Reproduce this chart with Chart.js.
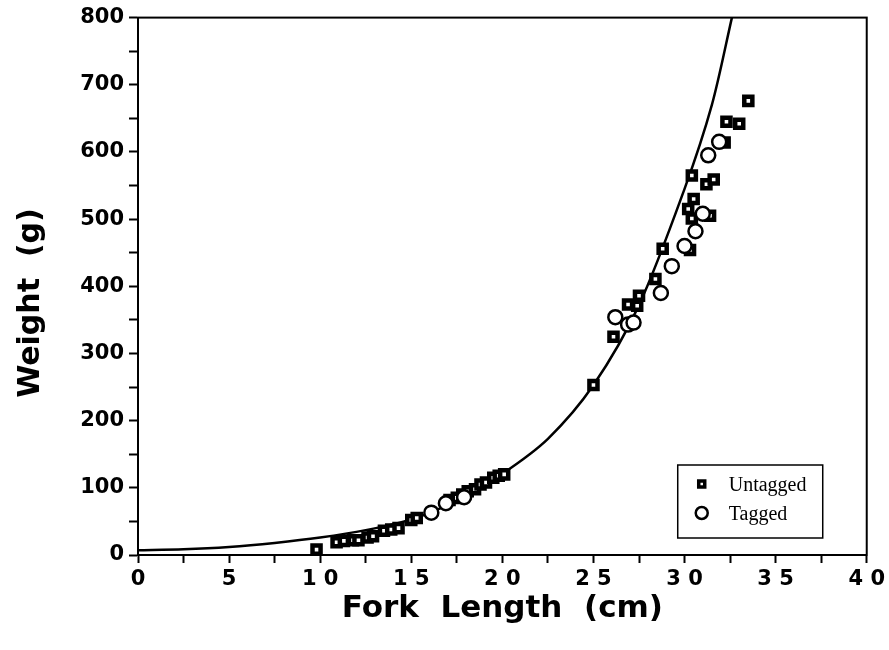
<!DOCTYPE html>
<html>
<head>
<meta charset="utf-8">
<script src="https://cdn.jsdelivr.net/npm/chart.js@4.4.1/dist/chart.umd.min.js"></script>
<style>
  html, body { margin: 0; padding: 0; background: #fff; }
</style>
</head>
<body>
<canvas id="chart" width="889" height="650"></canvas>
<script>
// fitted weight-length curve
const curveLength = [0, 2.5, 5, 7.5, 10, 12.5, 15, 17.5, 20, 22.5, 25, 27.5, 30, 31.5, 32.6];
const curveWeight = [7, 8.5, 12, 18, 26, 37, 53, 81, 121, 173, 253, 372, 545, 670, 800];

// untagged fish (squares)
const untaggedLength = [9.8, 10.9, 11.3, 11.8, 12.1, 12.6, 12.9, 13.5, 13.9, 14.3, 15.0, 15.3,
  17.1, 17.5, 17.8, 18.1, 18.5, 18.8, 19.1, 19.5, 19.8, 20.1,
  25.0, 26.1, 26.9, 27.4, 27.5, 28.4, 28.8, 30.2, 30.4, 30.3, 30.5, 30.4, 31.2, 31.6,
  32.2, 32.3, 33.0, 33.5, 31.4];
const untaggedWeight = [8, 19, 21, 22, 22, 26, 28, 36, 38, 40, 52, 55,
  82, 85, 90, 95, 98, 105, 108, 115, 118, 120,
  253, 325, 373, 371, 386, 411, 456, 515, 501, 454, 530, 565, 552, 559,
  614, 645, 642, 676, 505];

// tagged fish (circles)
const taggedLength = [16.1, 16.9, 17.9, 26.2, 26.9, 27.2, 28.7, 29.3, 30.0, 30.6, 31.0, 31.3, 31.9];
const taggedWeight = [63, 77, 86, 354, 343, 346, 390, 430, 460, 482, 508, 595, 615];

const xTickValues = [0, 5, 10, 15, 20, 25, 30, 35, 40];
const xTickLabels = ['0', '5', '1 0', '1 5', '2 0', '2 5', '3 0', '3 5', '4 0'];
const yTickValues = [0, 100, 200, 300, 400, 500, 600, 700, 800];
const yTickLabels = ['0', '100', '200', '300', '400', '500', '600', '700', '800'];
const yTitle = 'Weight  (g)';
const xTitle = 'Fork  Length  (cm)';

function toPoints(xs, ys) {
  return xs.map((x, i) => ({ x: x, y: ys[i] }));
}

const boldFont = '"DejaVu Sans", sans-serif';

const frameAndLegend = {
  id: 'frameAndLegend',
  afterDraw(chart) {
    const ctx = chart.ctx;
    const area = chart.chartArea;
    ctx.save();
    ctx.strokeStyle = '#000';
    ctx.lineWidth = 2;
    ctx.strokeRect(area.left, area.top, area.right - area.left, area.bottom - area.top);

    // y axis title, drawn here so it can sit a little below the axis middle
    ctx.save();
    ctx.translate(31, 303);
    ctx.rotate(-Math.PI / 2);
    ctx.fillStyle = '#000';
    ctx.font = 'bold 30px ' + boldFont;
    ctx.textAlign = 'center';
    ctx.textBaseline = 'middle';
    ctx.fillText(yTitle, 0, 0);
    ctx.restore();

    // legend box, lower right of plot
    const bx = area.right - 189, by = area.bottom - 90, bw = 145, bh = 73;
    ctx.lineWidth = 1.5;
    ctx.strokeRect(bx, by, bw, bh);

    // square marker
    ctx.fillStyle = '#fff';
    ctx.lineWidth = 3.5;
    ctx.beginPath();
    ctx.rect(bx + 21, by + 16, 6, 6);
    ctx.fill();
    ctx.stroke();

    // circle marker
    ctx.lineWidth = 2.5;
    ctx.beginPath();
    ctx.arc(bx + 24, by + 48, 6, 0, Math.PI * 2);
    ctx.fill();
    ctx.stroke();

    ctx.fillStyle = '#000';
    ctx.font = '20px "Liberation Serif", serif';
    ctx.textBaseline = 'middle';
    ctx.textAlign = 'left';
    ctx.fillText(chart.data.datasets[1].label, bx + 51, by + 21);
    ctx.fillText(chart.data.datasets[0].label, bx + 51, by + 50);
    ctx.restore();
  }
};

new Chart(document.getElementById('chart'), {
  type: 'scatter',
  data: {
    datasets: [
      {
        label: 'Tagged',
        data: toPoints(taggedLength, taggedWeight),
        pointStyle: 'circle',
        pointRadius: 7,
        pointBorderWidth: 2.5,
        pointBackgroundColor: '#fff',
        pointBorderColor: '#000'
      },
      {
        label: 'Untagged',
        data: toPoints(untaggedLength, untaggedWeight),
        pointStyle: 'rect',
        pointRadius: 5.7,
        pointBorderWidth: 4.5,
        pointBackgroundColor: '#fff',
        pointBorderColor: '#000'
      },
      {
        type: 'line',
        label: 'Fit',
        data: toPoints(curveLength, curveWeight),
        borderColor: '#000',
        borderWidth: 2.5,
        pointRadius: 0,
        fill: false,
        tension: 0.3
      }
    ]
  },
  options: {
    responsive: false,
    animation: false,
    layout: { padding: { left: 10, right: 22, top: 14, bottom: 22 } },
    plugins: {
      legend: { display: false },
      tooltip: { enabled: false }
    },
    scales: {
      x: {
        type: 'linear',
        min: 0,
        max: 40,
        afterFit: scale => { scale.height = 73; },
        ticks: {
          stepSize: 2.5,
          autoSkip: false,
          maxRotation: 0,
          padding: 4,
          color: '#000',
          font: { family: boldFont, size: 21, weight: 'bold' },
          callback: function (value) {
            const i = xTickValues.indexOf(value);
            return i >= 0 ? xTickLabels[i] : '';
          }
        },
        grid: { drawOnChartArea: false, drawTicks: true, tickLength: 8, tickWidth: 2, tickColor: '#000' },
        border: { display: true, color: '#000', width: 2 },
        title: {
          display: true,
          text: xTitle,
          color: '#000',
          font: { family: boldFont, size: 31, weight: 'bold' },
          padding: { top: 0, bottom: 0 }
        }
      },
      y: {
        type: 'linear',
        min: 0,
        max: 800,
        afterFit: scale => { scale.width = 128; },
        ticks: {
          stepSize: 50,
          autoSkip: false,
          padding: 5,
          color: '#000',
          font: { family: boldFont, size: 21, weight: 'bold' },
          callback: function (value) {
            const i = yTickValues.indexOf(value);
            return i >= 0 ? yTickLabels[i] : '';
          }
        },
        grid: { drawOnChartArea: false, drawTicks: true, tickLength: 9, tickWidth: 2, tickColor: '#000' },
        border: { display: true, color: '#000', width: 2 }
      }
    }
  },
  plugins: [frameAndLegend]
});
</script>
</body>
</html>
